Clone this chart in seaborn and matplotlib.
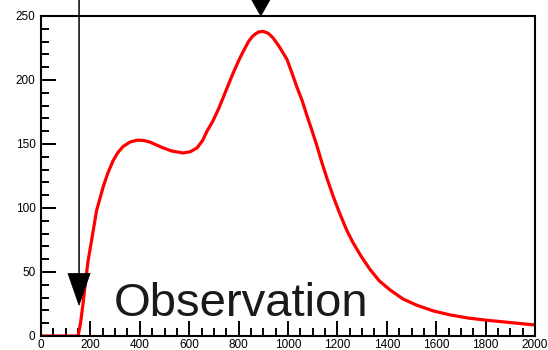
import matplotlib
matplotlib.use("Agg")
import matplotlib.pyplot as plt
from matplotlib.ticker import MultipleLocator
import seaborn as sns

# curve
time = [0, 150, 160, 170, 180, 190, 205, 225, 251, 270, 292, 310, 332, 360,
        389, 415, 441, 470, 494, 530, 575, 605, 632, 655, 672, 696, 720, 737,
        760, 777, 800, 818, 840, 858, 880, 899, 920, 939, 965, 996, 1015,
        1037, 1057, 1077, 1098, 1118, 1138, 1158, 1185, 1211, 1237, 1263,
        1297, 1332, 1370, 1413, 1465, 1522, 1590, 1656, 1730, 1806, 1900,
        2000]
signal = [0, 0, 10, 25, 42, 58, 75, 98, 116, 127, 137, 143, 148, 151.5,
          153, 152.8, 151.5, 149, 147, 144.5, 143, 144, 147, 153, 160, 168,
          178, 186, 197, 205, 215, 222, 230, 234.5, 237.5, 238, 236.5, 233,
          226, 216, 206, 194, 184, 172, 160, 148, 135, 123, 108, 95, 83, 73,
          62, 52, 43, 36, 29, 24, 19.5, 16.5, 14, 12.3, 10.5, 8.6]

start_x = 154
start_y = 24
peak_x = 890
label = "Observation"

sns.set_style("white")
plt.rcParams['font.family'] = ['Liberation Sans', 'DejaVu Sans']

fig = plt.figure(figsize=(5.48, 3.5), dpi=100)
ax = fig.add_axes([41/548, 14/350, 494/548, 320/350])

sns.lineplot(x=time, y=signal, ax=ax, color='red', linewidth=2.3)

ax.set_xlim(0, 2000)
ax.set_ylim(0, 250)
ax.xaxis.set_major_locator(MultipleLocator(200))
ax.xaxis.set_minor_locator(MultipleLocator(50))
ax.yaxis.set_major_locator(MultipleLocator(50))
ax.yaxis.set_minor_locator(MultipleLocator(10))
ax.tick_params(which='both', direction='in', width=1.4, colors='black',
               bottom=True, left=True, top=False, right=False, labelsize=8.5)
ax.tick_params(which='major', length=10.5, pad=2)
ax.tick_params(which='minor', length=5.5)
ax.tick_params(axis='y', pad=4)
for sp in ax.spines.values():
    sp.set_color('black')
    sp.set_linewidth(1.5)
ax.set_xlabel("")
ax.set_ylabel("")

# vertical marker with arrow head at the curve start
ax.annotate('', xy=(start_x, start_y), xytext=(start_x, 1.0),
            textcoords=('data', 'figure fraction'), annotation_clip=False,
            arrowprops=dict(facecolor='black', edgecolor='black', width=0.3,
                            headwidth=16, headlength=23, shrink=0, lw=0.5))

# peak arrow above the axes
ax.annotate('', xy=(peak_x, 250), xytext=(peak_x, 1.0),
            textcoords=('data', 'figure fraction'), annotation_clip=False,
            arrowprops=dict(facecolor='black', edgecolor='black', width=0.1,
                            headwidth=13, headlength=11.5, shrink=0, lw=0.5))

ax.text(0.148, 0.063, label, transform=ax.transAxes, fontsize=34,
        color='#1a1a1a', ha='left', va='baseline')

fig.savefig("out.png", dpi=100)
